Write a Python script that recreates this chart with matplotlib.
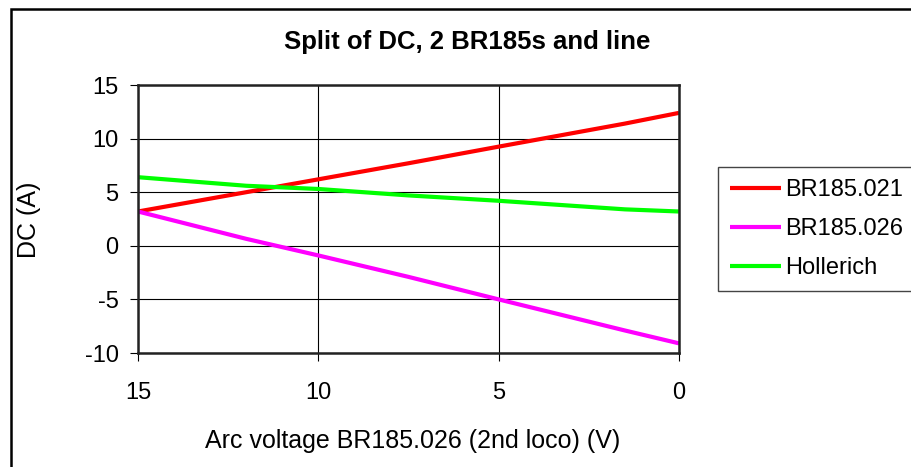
import matplotlib
matplotlib.use("Agg")
import matplotlib.pyplot as plt
from matplotlib.patches import Rectangle

plt.rcParams["font.family"] = ["Liberation Sans", "DejaVu Sans"]
plt.rcParams["axes.unicode_minus"] = False

# arc voltage of BR185.026 (V), plotted on a reversed axis
arc_voltage = [15, 12, 10, 7.5, 5, 1.5, 0]
br185_021 = [3.2, 5.0, 6.2, 7.7, 9.25, 11.4, 12.4]
br185_026 = [3.2, 0.65, -0.9, -2.9, -5.0, -7.9, -9.1]
hollerich = [6.4, 5.6, 5.3, 4.7, 4.2, 3.4, 3.2]

series = [
    ("BR185.021", br185_021, "#ff0000"),
    ("BR185.026", br185_026, "#ff00ff"),
    ("Hollerich", hollerich, "#00ff00"),
]

W, H = 911, 467
fig = plt.figure(figsize=(W / 100, H / 100), dpi=100)

# outer chart border (only left/top visible in the crop)
fig.patches.append(Rectangle((11 / W, -0.1), 1.2, 1 - 9 / H + 0.1,
                             transform=fig.transFigure, fill=False,
                             edgecolor="black", linewidth=1.8, clip_on=False))

left, right, top, bottom = 138, 679, 85, 353
ax = fig.add_axes([left / W, 1 - bottom / H, (right - left) / W, (bottom - top) / H])

for name, vals, col in series:
    ax.plot(arc_voltage, vals, color=col, lw=3, label=name, solid_capstyle="butt")

ax.set_xlim(15, 0)
ax.set_ylim(-10, 15)
ax.set_xticks([15, 10, 5, 0])
ax.set_yticks(range(-10, 16, 5))
ax.grid(True, color="black", lw=0.8)
ax.set_axisbelow(True)
for s in ax.spines.values():
    s.set_linewidth(1.8)
    s.set_color("#222222")
ax.tick_params(labelsize=17, direction="out", length=6, width=0.8)
ax.tick_params(axis="x", pad=15)
ax.tick_params(axis="y", pad=8)

fig.text(467 / W, 1 - 42 / H, "Split of DC, 2 BR185s and line", ha="center",
         va="center", fontsize=18.5, fontweight="bold")
fig.text(413 / W, 1 - 441 / H, "Arc voltage BR185.026 (2nd loco) (V)",
         ha="center", va="center", fontsize=18)
fig.text(29 / W, 1 - 220 / H, "DC (A)", ha="center", va="center",
         rotation=90, fontsize=18)

leg = ax.legend(loc="upper left", bbox_to_anchor=(718 / W, 1 - 167 / H),
                bbox_transform=fig.transFigure, fontsize=17, frameon=True,
                fancybox=False, edgecolor="#444444", framealpha=1,
                handlelength=2.15, handletextpad=0.2, borderaxespad=0,
                labelspacing=0.72, borderpad=0.5)
leg.get_frame().set_linewidth(1)

fig.savefig("out.png", dpi=100)
